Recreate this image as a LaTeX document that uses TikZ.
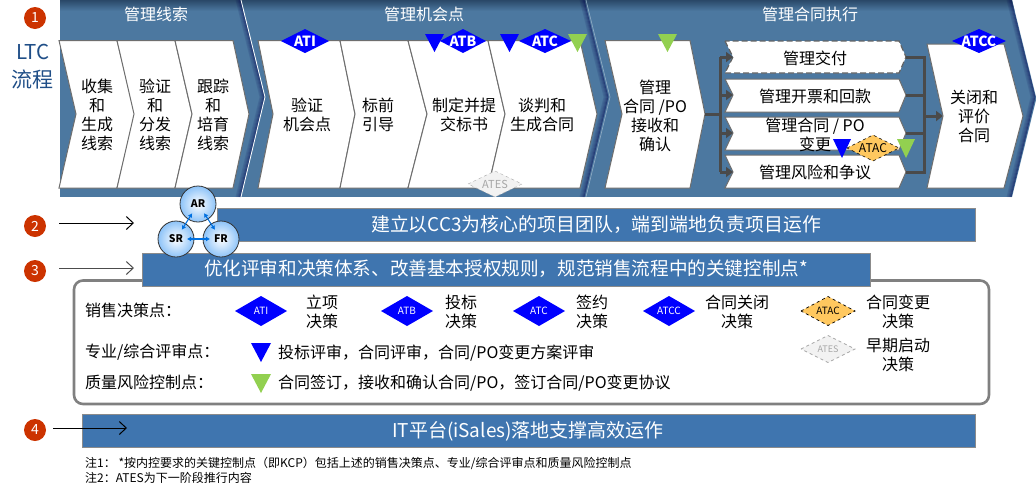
\documentclass[tikz,border=0pt]{standalone}
\usepackage{fontspec}
\setmainfont{Noto Sans CJK SC}
\usetikzlibrary{arrows.meta}
\definecolor{bgblue}{HTML}{4C78A0}
\definecolor{bgdark}{HTML}{2A4868}
\definecolor{barblue}{HTML}{3F75AF}
\definecolor{edgegray}{HTML}{6E6E6E}
\definecolor{conn}{HTML}{4A4A4A}
\definecolor{badge}{HTML}{CC3300}
\definecolor{ltc}{HTML}{1F4E87}
\definecolor{mblue}{HTML}{0000FF}
\definecolor{mgreen}{HTML}{92D050}
\definecolor{morange}{HTML}{FFC85F}
\definecolor{mgray}{HTML}{F2F2F2}
\definecolor{mgrayl}{HTML}{A6A6A6}
\definecolor{ballout}{HTML}{8DC3F8}
\definecolor{dualblue}{HTML}{0070E0}
\tikzset{
  chev/.style={draw=edgegray,fill=white,line width=1pt,line join=miter},
  txt/.style={inner sep=0pt,align=center,font=\fontsize{16}{19}\selectfont,text=black},
  ltxt/.style={txt,anchor=west,align=left},
  head/.style={inner sep=0pt,font=\fontsize{16}{19}\selectfont,text=white},
  bar/.style={draw=edgegray!80,fill=barblue,line width=1pt},
  bartxt/.style={inner sep=0pt,text=white},
  numbadge/.style={circle,fill=badge,minimum size=22pt,inner sep=0pt,text=white,font=\fontsize{14}{16}\selectfont},
  flow/.style={conn,line width=3pt,line cap=butt},
  flowhead/.style={flow,-{Triangle[length=7pt,width=10pt]}},
  lead/.style={line width=1pt,-{Straight Barb[length=7pt,width=13pt]}},
  ball/.style={circle,draw=black!80,line width=.8pt,minimum size=36pt,inner sep=0pt,inner color=white,outer color=ballout,font=\fontsize{10.5}{12}\selectfont\bfseries},
  dual/.style={line width=1.1pt,draw=dualblue,{Latex[length=4pt,width=5pt]}-{Latex[length=4pt,width=5pt]},shorten >=11pt,shorten <=11pt},
}
% \diam{name}{cx}{cy}{halfw}{halfh}{style}{font size}{text colour}{text}
\newcommand{\diam}[9]{%
  \path[#6] (#2-#4,#3) -- (#2,#3-#5) -- (#2+#4,#3) -- (#2,#3+#5) -- cycle;
  \node[inner sep=0pt,text=#8,font=\fontsize{#7}{#7}\selectfont] (#1) at (#2,#3) {#9};}
% \tri{colour}{x1}{x2}{ytop}{ybottom}
\newcommand{\tri}[5]{\fill[#1] (#2,#4) -- (#3,#4) -- ({(#2+#3)/2},#5) -- cycle;}
\begin{document}
\begin{tikzpicture}[x=1pt,y=-1pt]
\useasboundingbox (0,0) rectangle (1036,491);
% process band
\begin{scope}
  \clip (60,0) -- (1012,0) -- (1036,97) -- (1036,100) -- (1012,197) -- (60,197) -- cycle;
  \fill[bgblue] (60,0) rectangle (1040,197);
  \shade[top color=bgdark,bottom color=bgblue] (60,0) rectangle (1040,11);
  \foreach \d/\o in {5/.10,4/.16,3/.24,2/.34,1/.46}{
    \draw[black!70!blue,opacity=\o,line width=1pt] (241-\d,0) -- (265-\d,97) -- (241-\d,197);
    \draw[black!70!blue,opacity=\o,line width=1pt] (585-\d,0) -- (609-\d,97) -- (585-\d,197);
    \draw[black!70!blue,opacity=\o,line width=1pt] (1012-\d,0) -- (1036-\d,97) -- (1012-\d,197);
  }
  \draw[white,line width=.8pt] (241,0) -- (265,97) -- (241,197);
  \draw[bgblue!60!white,line width=.6pt] (586,0) -- (610,97) -- (586,197);
\end{scope}
\node[head] (h1) at (156,14) {管理线索};
\node[head] (h2) at (424,14) {管理机会点};
\node[head] (h3) at (810,14) {管理合同执行};
% chevrons
\draw[chev] (59,40.5) -- (76,114) -- (59,188) -- (117,188) -- (135,114) -- (117,40.5) -- cycle;
\draw[chev] (117,40.5) -- (134,114) -- (117,188) -- (175,188) -- (192,114) -- (175,40.5) -- cycle;
\draw[chev] (175,40.5) -- (192,114) -- (175,188) -- (233,188) -- (249,114) -- (233,40.5) -- cycle;
\draw[chev] (258,40.5) -- (273,114) -- (258,188) -- (340,188) -- (355,114) -- (340,40.5) -- cycle;
\draw[chev] (340,40.5) -- (355,114) -- (340,188) -- (408,188) -- (427,114) -- (408,40.5) -- cycle;
\draw[chev] (408,40.5) -- (427,114) -- (408,188) -- (488,188) -- (505,114) -- (488,40.5) -- cycle;
\draw[chev] (488,40.5) -- (505,114) -- (488,188) -- (580,188) -- (597,114) -- (580,40.5) -- cycle;
\draw[chev] (605,40.5) -- (622,114) -- (605,188) -- (690,188) -- (705,114) -- (690,40.5) -- cycle;
\draw[chev,dashed,dash pattern=on 6pt off 3pt,line width=1.2pt,draw=edgegray!90!black] (725,41) -- (733,57) -- (725,73) -- (899,73) -- (906,57) -- (899,41) -- cycle;
\draw[chev] (725,79) -- (733,95) -- (725,112) -- (899,112) -- (906,95) -- (899,79) -- cycle;
\draw[chev] (725,117) -- (733,133) -- (725,150) -- (899,150) -- (906,133) -- (899,117) -- cycle;
\draw[chev] (725,155) -- (733,172) -- (725,188) -- (899,188) -- (906,172) -- (899,155) -- cycle;
% connectors
\coordinate (src) at (705,114);
\coordinate (jl) at (720,114);
\coordinate (jlt) at (720,57);
\coordinate (jl2) at (720,95);
\coordinate (jl3) at (720,133);
\coordinate (jlb) at (720,172);
\coordinate (il1) at (733,57);
\coordinate (il2) at (733,95);
\coordinate (il3) at (733,133);
\coordinate (il4) at (733,172);
\coordinate (ol1) at (906,57);
\coordinate (ol2) at (906,95);
\coordinate (ol3) at (906,133);
\coordinate (ol4) at (906,172);
\coordinate (jrt) at (924,57);
\coordinate (jr2) at (924,95);
\coordinate (jr3) at (924,133);
\coordinate (jrb) at (924,172);
\coordinate (jr) at (924,116);
\coordinate (snk) at (943,116);
\draw[flow] (src) -- (jl);
\draw[flow,line cap=square] (jlt) -- (jlb);
\draw[flowhead] (jlt) -- (il1);
\draw[flowhead] (jl2) -- (il2);
\draw[flowhead] (jl3) -- (il3);
\draw[flowhead] (jlb) -- (il4);
\draw[flow] (ol1) -- (jrt) -- (jrb) -- (ol4);
\draw[flow] (ol2) -- (jr2);
\draw[flow] (ol3) -- (jr3);
\draw[flowhead] (jr) -- (snk);
\draw[chev] (927,44) -- (943,116) -- (927,188) -- (1004,188) -- (1023,116) -- (1004,44) -- cycle;
% chevron texts
\node[txt] (n1) at (97,114.5) {收集\\和\\生成\\线索};
\node[txt] (n2) at (155,114.5) {验证\\和\\分发\\线索};
\node[txt] (n3) at (213,114.5) {跟踪\\和\\培育\\线索};
\node[txt] (n4) at (307,114.5) {验证\\机会点};
\node[txt] (n5) at (378,114.5) {标前\\引导};
\node[txt] (n6) at (464,114.5) {制定并提\\交标书};
\node[txt] (n7) at (542,114.5) {谈判和\\生成合同};
\node[txt] (n8) at (655,115.5) {管理\\合同 /PO\\接收和\\确认};
\node[txt] (s1) at (815,58) {管理交付};
\node[txt] (s2) at (815,96) {管理开票和回款};
\node[txt] (s3) at (815,134.5) {管理合同 / PO\\变更};
\node[txt] (s4) at (815,172) {管理风险和争议};
\node[txt] (n9) at (974,116) {关闭和\\评价\\合同};
% markers on the flow
\diam{mati}{305}{41}{24}{12}{fill=mblue}{14}{white}{\bfseries ATI}
\tri{mblue}{425}{444}{34}{52}
\diam{matb}{463}{41}{23}{12}{fill=mblue}{14}{white}{\bfseries ATB}
\tri{mblue}{500}{519}{34}{52}
\diam{matc}{545}{41}{26}{12}{fill=mblue}{14}{white}{\bfseries ATC}
\tri{mgreen}{568}{587}{34}{52}
\tri{mgreen}{658}{677}{34}{52}
\diam{matcc}{979}{41}{27}{12}{fill=mblue}{14}{white}{\bfseries ATCC}
\diam{mates}{495}{184}{27}{13}{fill=mgray,draw=mgrayl,dashed}{11}{mgrayl}{ATES}
\tri{mblue}{833}{851}{139}{158}
\diam{matac}{873}{148}{26}{13}{fill=morange,draw=black,dashed,line width=.6pt}{12}{black}{ATAC}
\tri{mgreen}{897}{915}{139}{158}
% left side
\node[numbadge] (b1) at (35,18) {1};
\node[inner sep=0pt,text=ltc,font=\fontsize{20.5}{22}\selectfont] (ltc1) at (33,52) {LTC};
\node[inner sep=0pt,text=ltc,font=\fontsize{21}{23}\selectfont] (ltc2) at (33,79) {流程};
\node[numbadge] (b2) at (35,226) {2};
\node[numbadge] (b3) at (35,271) {3};
\node[numbadge] (b4) at (35,430) {4};
% legend box
\draw[draw=black!50,line width=2.6pt,fill=white,rounded corners=9pt] (74,280.5) rectangle (989,404);
% bars
\draw[bar] (217,208) rectangle (975,241);
\node[bartxt,font=\fontsize{18.9}{21}\selectfont] (t2) at (596,225) {建立以CC3为核心的项目团队，端到端地负责项目运作};
\draw[bar] (142,253) rectangle (870,286);
\node[bartxt,font=\fontsize{18.6}{21}\selectfont] (t3) at (506,269) {优化评审和决策体系、改善基本授权规则，规范销售流程中的关键控制点*};
\draw[bar] (82,414) rectangle (975,447);
\node[bartxt,font=\fontsize{19}{21}\selectfont] (t4) at (528,431) {IT平台(iSales)落地支撑高效运作};
% lead arrows
\coordinate (a2s) at (59,223);
\coordinate (a2e) at (134,223);
\coordinate (a3s) at (59,268);
\coordinate (a3e) at (134,268);
\coordinate (a4s) at (53,428);
\coordinate (a4e) at (127,428);
\draw[lead] (a2s) -- (a2e);
\draw[lead,draw=black!70] (a3s) -- (a3e);
\draw[lead] (a4s) -- (a4e);
% balls
\node[ball] (AR) at (198,204) {AR};
\node[ball] (SR) at (176,239) {SR};
\node[ball] (FR) at (221,239) {FR};
\draw[dual] (AR.center) -- (SR.center);
\draw[dual] (AR.center) -- (FR.center);
\draw[dual] (SR.center) -- (FR.center);
% legend
\node[ltxt] (l1) at (85,310) {销售决策点：};
\diam{k1}{261}{311}{26}{15}{fill=mblue}{10}{white}{ATI}
\node[txt] (k1t) at (322,311.5) {立项\\决策};
\diam{k2}{407}{311}{26}{15}{fill=mblue}{10}{white}{ATB}
\node[txt] (k2t) at (461,311.5) {投标\\决策};
\diam{k3}{539}{311}{26}{15}{fill=mblue}{10}{white}{ATC}
\node[txt] (k3t) at (592,311.5) {签约\\决策};
\diam{k4}{669}{311}{26}{15}{fill=mblue}{10}{white}{ATCC}
\node[txt] (k4t) at (737,311.5) {合同关闭\\决策};
\diam{k5}{828}{311}{27}{14.5}{fill=morange,draw=black,dashed,line width=.7pt}{10}{black}{ATAC}
\node[txt] (k5t) at (898,311.5) {合同变更\\决策};
\diam{k6}{828}{349}{27}{13.5}{fill=mgray,draw=mgrayl,dashed,line width=.7pt}{9}{mgrayl}{ATES}
\node[txt] (k6t) at (898,354.5) {早期启动\\决策};
\node[ltxt] (l2) at (85,352) {专业/综合评审点：};
\tri{mblue}{251}{271}{343}{362}
\node[ltxt] (l2t) at (278,353) {投标评审，合同评审，合同/PO变更方案评审};
\node[ltxt] (l3) at (85,382) {质量风险控制点：};
\tri{mgreen}{251}{271}{374}{393}
\node[ltxt] (l3t) at (278,383) {合同签订，接收和确认合同/PO，签订合同/PO变更协议};
% notes
\node[inner sep=0pt,anchor=west,font=\fontsize{12}{13}\selectfont] (f1) at (85,463.5) {注1： *按内控要求的关键控制点（即KCP）包括上述的销售决策点、专业/综合评审点和质量风险控制点};
\node[inner sep=0pt,anchor=west,font=\fontsize{12}{13}\selectfont] (f2) at (85,478) {注2：ATES为下一阶段推行内容};
\end{tikzpicture}
\end{document}
